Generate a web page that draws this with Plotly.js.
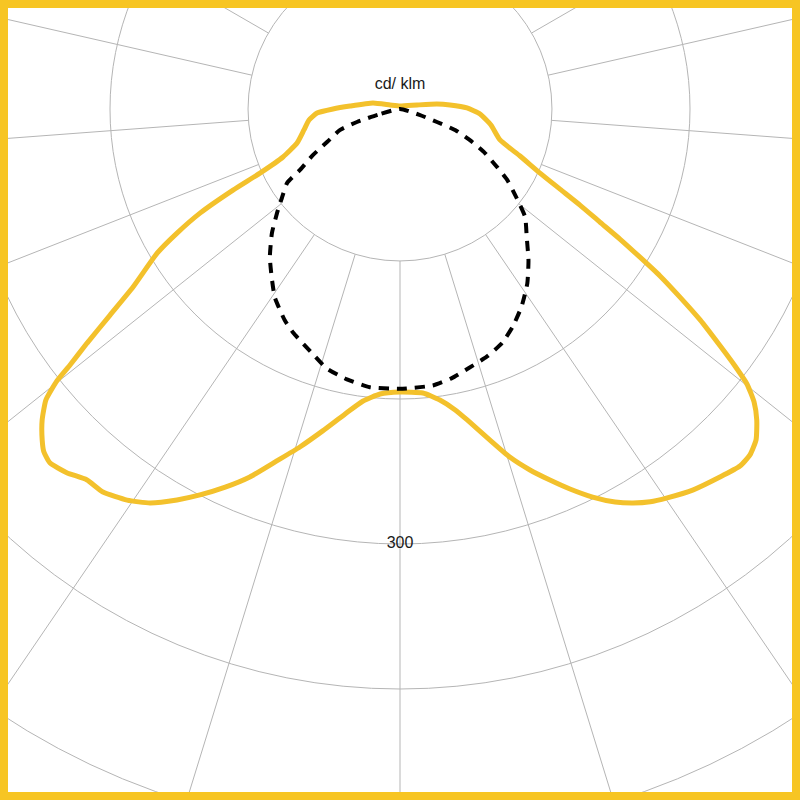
<!DOCTYPE html>
<html>
<head>
<meta charset="utf-8">
<script src="https://cdn.plot.ly/plotly-3.0.1.min.js"></script>
<style>
  html, body { margin: 0; padding: 0; width: 800px; height: 800px; overflow: hidden; background: #fff; }
  #stage { position: relative; width: 800px; height: 800px; overflow: hidden; }
  /* polar centre sits at (400,109) of the window, so the plot is larger than the view */
  #chart { position: absolute; left: -412px; top: -703px; width: 1624px; height: 1624px; }
  #frame { position: absolute; left: 0; top: 0; width: 800px; height: 800px; box-sizing: border-box;
           border: 8px solid #f7c523; pointer-events: none; }
</style>
</head>
<body>
<div id="stage">
  <div id="chart"></div>
  <div id="frame"></div>
</div>
<script>
// luminous intensity, cd/klm, gamma angle in degrees (0 = straight down, + = right)
const planeC90Theta = [-180, -111.8, -102.5, -93.4, -90, -87.2, -83.1, -77.7, -71.7, -67.7,
  -65.4, -64.1, -62.5, -60.9, -59.3, -56.3, -54.6, -53.2, -52.2, -51.6,
  -50.6, -49, -47.2, -46.1, -44.7, -42.5, -40.2, -37.8, -34.9, -32.4,
  -29.7, -27.4, -24.8, -22.2, -19.3, -16.5, -13.5, -10.2, -7.2, -4,
  0, 4.6, 7.8, 10.4, 12.2, 15.2, 17.5, 19.8, 22, 24.1,
  26.4, 28.7, 30.6, 32.5, 34.5, 37.6, 41, 43.6, 45.3, 47.1,
  48.9, 50.4, 51.6, 52.5, 53.5, 54.9, 56.1, 57.3, 58.3, 59.4,
  60.5, 61.9, 63.4, 65.4, 68.6, 72.8, 80, 86.4, 90.9, 94.6,
  97.7, 103.2, 180];
const planeC90Value = [2, 7.4, 19.1, 34.5, 46.2, 57.3, 63.2, 67.8, 74.8, 87.2,
  106.2, 128, 155.5, 176, 194.8, 221.3, 245.3, 269.5, 288, 301.9,
  316, 327, 336.3, 340.9, 343.3, 340.2, 334.8, 334.3, 328.9, 321.8,
  310.4, 299.8, 287.3, 274.1, 257.2, 243.1, 228.3, 213.7, 203, 197,
  195.2, 196.5, 202.6, 211, 219.4, 236.6, 251.7, 264.6, 276, 287.1,
  298.8, 309, 315.7, 321.2, 325.4, 331.5, 336.3, 340, 339.4, 335.2,
  326.5, 316.9, 305.3, 291.2, 274.6, 253, 232.6, 213.1, 194.5, 176.2,
  158.4, 140.7, 123.4, 106.2, 88.9, 72.2, 63.7, 55.3, 46.2, 34.6,
  25.7, 12.1, 2];

const planeC0Theta = [-90, -75.4, -73.2, -70.7, -65.7, -62.1, -58.6, -56.8, -53, -49.8,
  -45.9, -41.3, -37.3, -33.6, -28.6, -25.5, -19.8, -15.7, -11.1, -6.2,
  0, 6.8, 10.9, 14.7, 19.3, 23.6, 27.4, 31.6, 36.1, 40.3,
  44.8, 49.2, 52.7, 56.4, 59.1, 62.6, 65.4, 69.1, 70.6, 73.3, 90];
const planeC0Value = [0, 16, 31, 44, 55, 68, 81, 93, 102, 111,
  123, 136, 146, 156, 166, 171, 179, 186, 190, 193,
  193, 192, 189, 185, 181, 176, 169, 160, 149, 137,
  124, 114, 101, 89, 78, 66, 55, 41, 27, 14, 0];

const gridRings = [200, 300, 400, 500];
const ringLabel = "300";
const unitLabel = "cd/ klm";

const RMAX = 560;          // outer edge of the polar area
const RHOLE = 104.8;       // inner ring, blank inside
const SPOKE = 360 / 21;    // spoke spacing in degrees

const YELLOW = "#f3c12c";
const GRID = "#b5b5b5";
const FONT = "Liberation Sans, Arial, sans-serif";

const traces = [
  {
    type: "scatterpolar",
    subplot: "polar",
    r: [gridRings[1]],
    theta: [0],
    mode: "text",
    text: [ringLabel],
    textposition: "middle center",
    textfont: { family: FONT, size: 16, color: "#1a1a1a" },
    hoverinfo: "skip",
    showlegend: false,
  },
  {
    type: "scatterpolar",
    subplot: "polar2",
    r: planeC90Value,
    theta: planeC90Theta,
    mode: "lines",
    line: { color: YELLOW, width: 5, shape: "spline", smoothing: 0.5 },
    hoverinfo: "skip",
    showlegend: false,
  },
  {
    type: "scatterpolar",
    subplot: "polar2",
    r: planeC0Value,
    theta: planeC0Theta,
    mode: "lines",
    line: { color: "#000", width: 4, dash: "10px,8px", shape: "spline", smoothing: 0.5 },
    hoverinfo: "skip",
    showlegend: false,
  },
  {
    type: "scatterpolar",
    subplot: "polar2",
    r: [16.6],
    theta: [180],
    mode: "text",
    text: [unitLabel],
    textposition: "middle center",
    textfont: { family: FONT, size: 16, color: "#1a1a1a" },
    hoverinfo: "skip",
    showlegend: false,
  },
];

const angular = {
  rotation: -90,
  direction: "counterclockwise",
  tick0: 0,
  dtick: SPOKE,
  showgrid: true,
  gridcolor: GRID,
  gridwidth: 1,
  showticklabels: false,
  ticks: "",
  showline: true,
  linecolor: GRID,
  linewidth: 1,
};

const layout = {
  width: 1624,
  height: 1624,
  autosize: false,
  margin: { t: 0, b: 0, l: 0, r: 0, pad: 0 },
  paper_bgcolor: "#fff",
  showlegend: false,
  polar: {
    domain: { x: [0, 1], y: [0, 1] },
    bgcolor: "#fff",
    hole: (RHOLE / RMAX),
    radialaxis: {
      range: [RHOLE, RMAX],
      tickmode: "array",
      tickvals: gridRings,
      showgrid: true,
      gridcolor: GRID,
      gridwidth: 1,
      showticklabels: false,
      ticks: "",
      showline: false,
    },
    angularaxis: angular,
  },
  polar2: {
    domain: { x: [0, 1], y: [0, 1] },
    bgcolor: "rgba(0,0,0,0)",
    radialaxis: { range: [0, RMAX], visible: false },
    angularaxis: { rotation: -90, direction: "counterclockwise", visible: false },
  },
};

Plotly.newPlot("chart", traces, layout, { staticPlot: true, displayModeBar: false });
</script>
</body>
</html>
